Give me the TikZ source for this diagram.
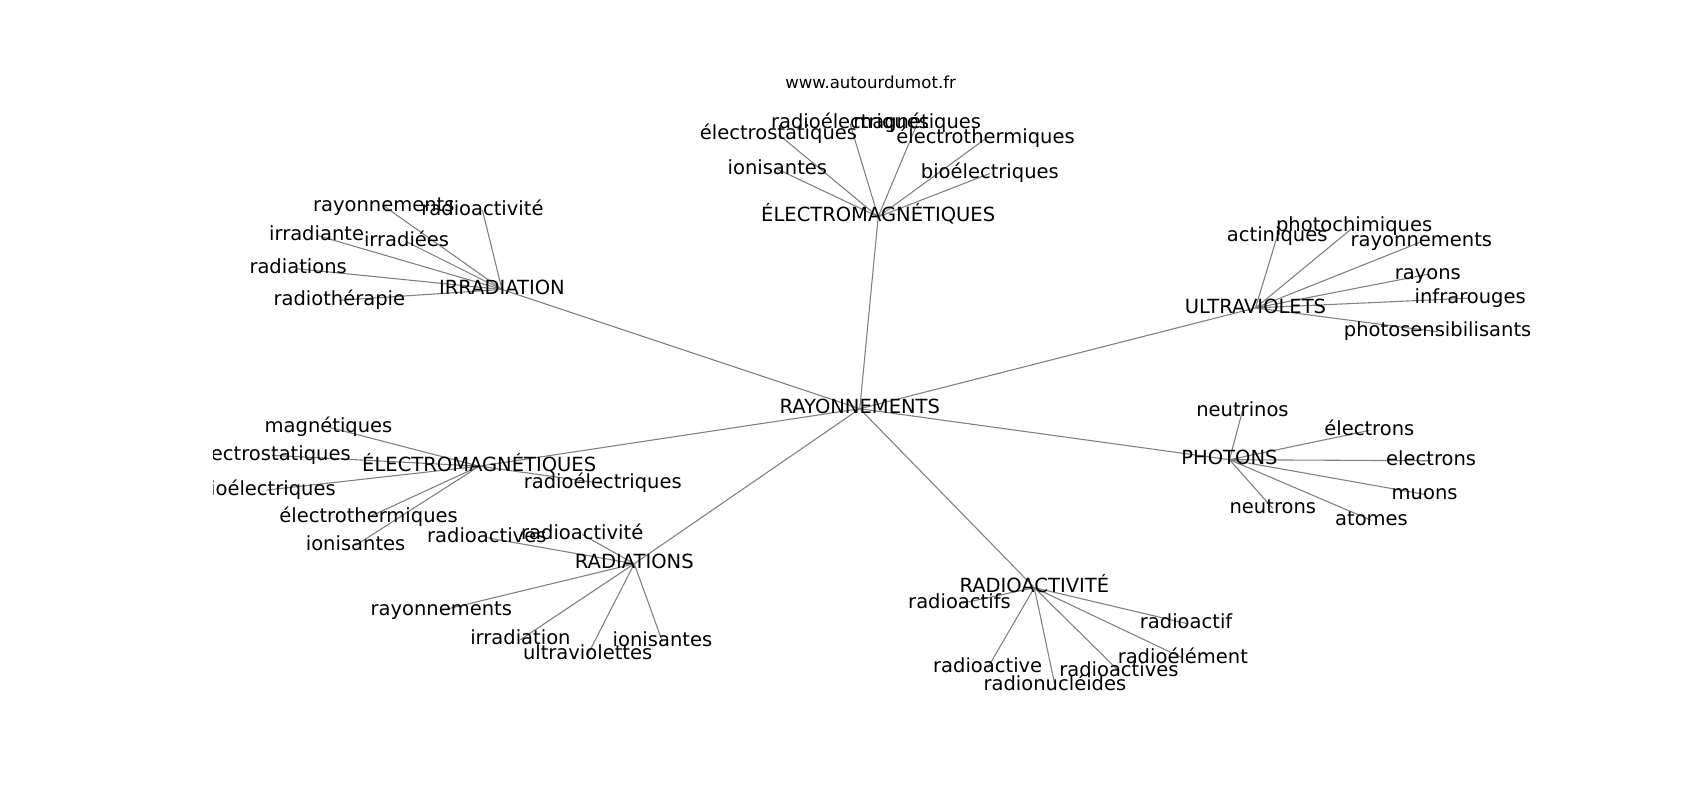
\documentclass[tikz,border=0pt]{standalone}
\usepackage{fontspec}
\setmainfont{DejaVu Sans}
\usetikzlibrary{backgrounds}
\begin{document}
\begin{tikzpicture}[x=1pt,y=-1pt,
  lbl/.style={font=\fontsize{18pt}{21pt}\selectfont, inner sep=0pt, text height=13.7pt, text depth=4.3pt},
  ttl/.style={font=\fontsize{15.3pt}{18pt}\selectfont, inner sep=0pt},
  lnk/.style={draw=black!50, line width=1pt}]
\useasboundingbox (0,0) rectangle (1568,738);
\node[ttl] (title) at (803,76) {www.autourdumot.fr};
\begin{scope}
\clip (197,0) rectangle (1411,738);
\node[lbl] (c) at (793,377) {RAYONNEMENTS};
% top cluster
\node[lbl] (e1) at (810,200) {ÉLECTROMAGNÉTIQUES};
\node[lbl] (e1a) at (784,114) {radioélectriques};
\node[lbl] (e1b) at (846,114) {magnétiques};
\node[lbl] (e1c) at (718,124) {électrostatiques};
\node[lbl] (e1d) at (909,128) {électrothermiques};
\node[lbl] (e1e) at (717,156) {ionisantes};
\node[lbl] (e1f) at (913,160) {bioélectriques};
% irradiation
\node[lbl] (ir) at (463,267) {IRRADIATION};
\node[lbl] (ira) at (354,190) {rayonnements};
\node[lbl] (irb) at (445,194) {radioactivité};
\node[lbl] (irc) at (292,217) {irradiante};
\node[lbl] (ird) at (375,223) {irradiées};
\node[lbl] (ire) at (275,248) {radiations};
\node[lbl] (irf) at (313,277) {radiothérapie};
% ultraviolets
\node[lbl] (uv) at (1158,284) {ULTRAVIOLETS};
\node[lbl] (uva) at (1178,218) {actiniques};
\node[lbl] (uvb) at (1249,209) {photochimiques};
\node[lbl] (uvc) at (1311,223) {rayonnements};
\node[lbl] (uvd) at (1317,253) {rayons};
\node[lbl] (uve) at (1356,275) {infrarouges};
\node[lbl] (uvf) at (1326,306) {photosensibilisants};
% photons
\node[lbl] (ph) at (1134,424) {PHOTONS};
\node[lbl] (pha) at (1146,379) {neutrinos};
\node[lbl] (phb) at (1263,397) {électrons};
\node[lbl] (phc) at (1320,425) {electrons};
\node[lbl] (phd) at (1314,456) {muons};
\node[lbl] (phe) at (1174,469) {neutrons};
\node[lbl] (phf) at (1265,480) {atomes};
% radioactivite
\node[lbl] (ra) at (954,542) {RADIOACTIVITÉ};
\node[lbl] (raa) at (885,557) {radioactifs};
\node[lbl] (rab) at (1094,575) {radioactif};
\node[lbl] (rac) at (1091,607) {radioélément};
\node[lbl] (rad) at (911,616) {radioactive};
\node[lbl] (rae) at (1032,619) {radioactives};
\node[lbl] (raf) at (973,632) {radionucléides};
% electromagnetiques left
\node[lbl] (e2) at (442,430) {ÉLECTROMAGNÉTIQUES};
\node[lbl] (e2a) at (303,394) {magnétiques};
\node[lbl] (e2b) at (251,420) {électrostatiques};
\node[lbl] (e2c) at (246,452) {bioélectriques};
\node[lbl] (e2d) at (556,446) {radioélectriques};
\node[lbl] (e2e) at (340,477) {électrothermiques};
\node[lbl] (e2f) at (328,503) {ionisantes};
% radiations
\node[lbl] (rd) at (585,520) {RADIATIONS};
\node[lbl] (rda) at (537,493) {radioactivité};
\node[lbl] (rdb) at (449,496) {radioactives};
\node[lbl] (rdc) at (407,563) {rayonnements};
\node[lbl] (rdd) at (480,590) {irradiation};
\node[lbl] (rde) at (542,604) {ultraviolettes};
\node[lbl] (rdf) at (611,592) {ionisantes};
\end{scope}
\begin{scope}[on background layer]
\foreach \h in {e1,ir,uv,ph,ra,e2,rd}
  \draw[lnk] (c.center) -- (\h.center);
\foreach \h in {e1,ir,uv,ph,ra,e2,rd}
  \foreach \l in {a,b,c,d,e,f}
    \draw[lnk] (\h.center) -- (\h\l.center);
\end{scope}
\end{tikzpicture}
\end{document}
